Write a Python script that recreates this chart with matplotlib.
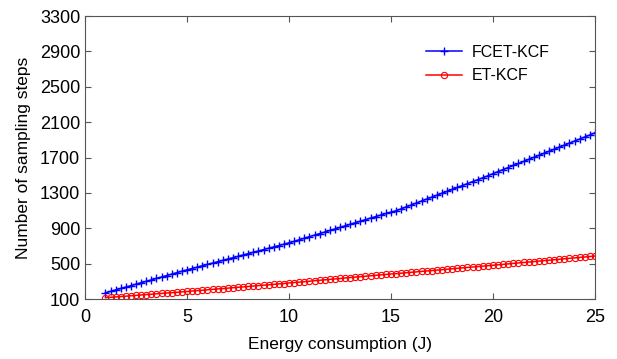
import numpy as np
import matplotlib
matplotlib.use('Agg')
import matplotlib.pyplot as plt

plt.rcParams['font.family'] = ['Liberation Sans', 'DejaVu Sans']

# energy consumption grid (J)
energy = np.arange(1, 25.01, 0.25)

fcet_kcf = [170, 186, 203, 219, 235, 251, 268, 284, 300, 316, 333, 349, 365, 381, 398, 414,
            430, 445, 460, 476, 491, 506, 521, 537, 552, 567, 582, 598, 613, 628, 643, 659,
            674, 689, 704, 720, 735, 752, 770, 787, 805, 822, 840, 857, 875, 892, 910, 927,
            945, 962, 980, 997, 1015, 1032, 1050, 1067, 1082, 1098, 1120, 1142, 1164, 1186,
            1208, 1230, 1252, 1274, 1296, 1317, 1339, 1361, 1383, 1405, 1427, 1449, 1471, 1493,
            1518, 1541, 1564, 1587, 1610, 1633, 1656, 1679, 1702, 1725, 1748, 1771, 1794, 1817,
            1840, 1863, 1886, 1909, 1932, 1955, 1980]

et_kcf = [115, 119, 124, 128, 132, 137, 141, 146, 150, 154, 159, 163, 168, 172, 176, 181,
          185, 190, 195, 199, 204, 209, 214, 218, 223, 228, 233, 237, 242, 247, 252, 256,
          261, 266, 271, 275, 282, 286, 291, 296, 301, 307, 312, 317, 322, 327, 332, 338,
          343, 348, 353, 358, 363, 368, 373, 378, 383, 387, 392, 397, 402, 407, 412, 417,
          422, 427, 432, 437, 442, 447, 452, 457, 462, 467, 472, 477, 482, 487, 492, 497,
          503, 508, 513, 518, 523, 529, 534, 539, 544, 549, 555, 560, 565, 570, 575, 581, 586]

xticks = [0, 5, 10, 15, 20, 25]
yticks = [100, 500, 900, 1300, 1700, 2100, 2500, 2900, 3300]

fig = plt.figure(figsize=(6.17, 3.59), dpi=100)
ax = fig.add_axes([0.1378, 0.1671, 0.8265, 0.7883])

ax.plot(energy, fcet_kcf, color='#0000ff', marker='+', markersize=5.5, markeredgewidth=1,
        linewidth=1.1, label='FCET-KCF')
ax.plot(energy, et_kcf, color='#ff0000', marker='o', markersize=4.5, markerfacecolor='none',
        markeredgewidth=0.8, linewidth=1.1, label='ET-KCF')

ax.set_xlim(0, 25)
ax.set_ylim(100, 3300)
ax.set_xticks(xticks)
ax.set_yticks(yticks)
ax.tick_params(direction='in', top=True, right=True, labelsize=13, length=4,
               color='#555555', width=0.8)
ax.tick_params(axis='x', pad=7)
for s in ax.spines.values():
    s.set_color('#555555')
    s.set_linewidth(0.8)

ax.set_xlabel('Energy consumption (J)', fontsize=12.5, labelpad=8)
ax.set_ylabel('Number of sampling steps', fontsize=12.5, labelpad=6)

ax.legend(loc='upper right', bbox_to_anchor=(0.94, 0.95), frameon=False, fontsize=11.5,
          handlelength=2.3, handletextpad=0.6, labelspacing=0.55)

fig.savefig('out.png', dpi=100)
